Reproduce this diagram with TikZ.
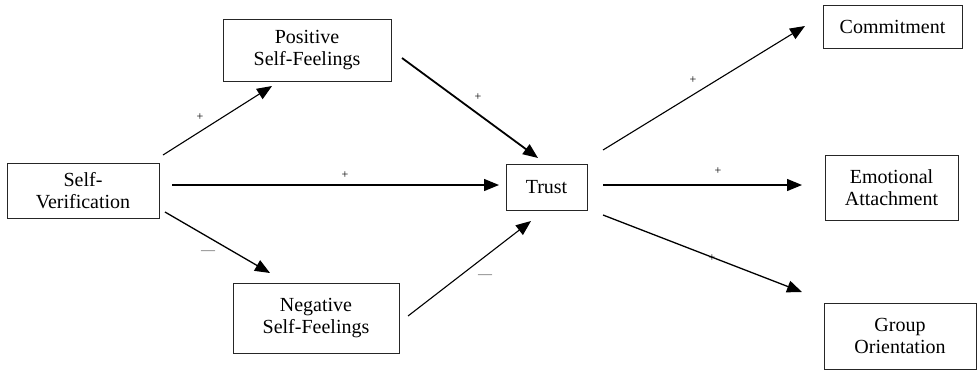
\documentclass[tikz,border=0pt]{standalone}
\usepackage{fontspec}
\setmainfont{Liberation Serif}
\usetikzlibrary{arrows.meta}
\begin{document}
\begin{tikzpicture}[x=0.5pt,y=-0.5pt,
  box/.style={draw=black!85,line width=0.5pt,align=center,inner sep=0pt,
    font=\fontsize{10}{10.8}\selectfont},
  conn/.style={line width=0.65pt,-{Triangle[length=7.5pt,width=6pt]}},
  sign/.style={font=\fontsize{6}{6}\selectfont,inner sep=0pt},
  neg/.style={font=\fontsize{7}{7}\selectfont,inner sep=0pt,text=black!60}]
\useasboundingbox (0,0) rectangle (977,381);
% boxes
\node[box,minimum width=76pt,minimum height=27.5pt] (sv) at (83,190.5) {Self-\\Verification};
\node[box,minimum width=84pt,minimum height=31pt] (pos) at (307,50) {Positive\\Self-Feelings};
\node[box,minimum width=83pt,minimum height=35pt] (ng) at (316,318) {Negative\\Self-Feelings};
\node[box,minimum width=40.5pt,minimum height=23pt] (tr) at (546.5,187) {Trust};
\node[box,minimum width=69.5pt,minimum height=21.5pt] (com) at (892.5,26.5) {Commitment};
\node[box,minimum width=66.5pt,minimum height=32.5pt] (emo) at (891.5,187.5) {Emotional\\Attachment};
\node[box,minimum width=76pt,minimum height=33pt] (grp) at (900,336) {Group\\Orientation};
% connector end points
\coordinate (a1) at (163,155); \coordinate (b1) at (272,86);
\coordinate (a2) at (172,185); \coordinate (b2) at (499,185);
\coordinate (a3) at (165,212); \coordinate (b3) at (270,273);
\coordinate (a4) at (402,58);  \coordinate (b4) at (538,158);
\coordinate (a5) at (408,316); \coordinate (b5) at (531,221);
\coordinate (a6) at (603,150); \coordinate (b6) at (805,26);
\coordinate (a7) at (603,185); \coordinate (b7) at (802,185);
\coordinate (a8) at (603,215); \coordinate (b8) at (802,292);
% connectors
\draw[conn,line width=0.55pt] (a1) -- (b1);
\draw[conn] (a2) -- (b2);
\draw[conn] (a3) -- (b3);
\draw[conn,line width=0.9pt] (a4) -- (b4);
\draw[conn,line width=0.55pt] (a5) -- (b5);
\draw[conn,line width=0.55pt] (a6) -- (b6);
\draw[conn] (a7) -- (b7);
\draw[conn] (a8) -- (b8);
% signs
\node[sign] (s1) at (200,117) {+};
\node[sign] (s2) at (345,175) {+};
\node[neg] (s3) at (208,253) {—};
\node[sign] (s4) at (478,97) {+};
\node[neg] (s5) at (485,277) {—};
\node[sign] (s6) at (693,80) {+};
\node[sign] (s7) at (718,171) {+};
\node[sign] (s8) at (712,258) {+};
\end{tikzpicture}
\end{document}
